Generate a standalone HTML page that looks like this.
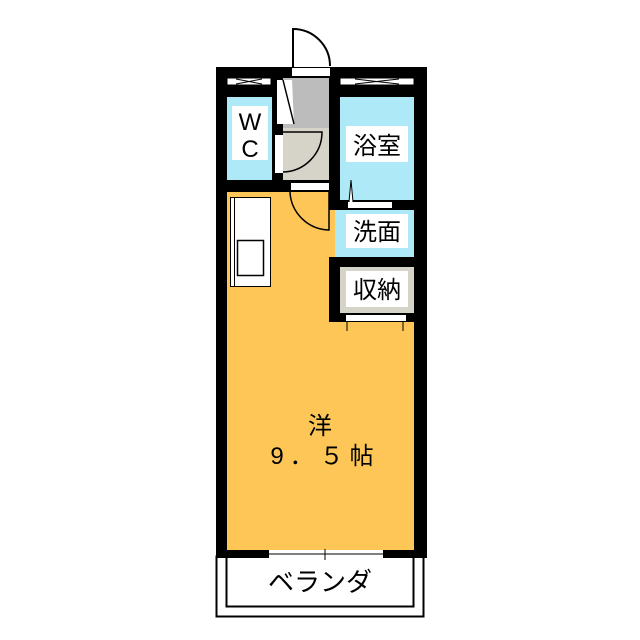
<!DOCTYPE html>
<html><head><meta charset="utf-8"><style>
html,body{margin:0;padding:0;background:#fff;width:640px;height:640px;overflow:hidden}
svg{display:block}
text{font-family:"Liberation Sans","Noto Sans CJK JP",sans-serif;fill:#000}
</style></head><body>
<svg width="640" height="640" viewBox="0 0 640 640" xmlns="http://www.w3.org/2000/svg">
<rect width="640" height="640" fill="#fff"/>
<rect x="216.5" y="556.5" width="207" height="60" fill="#fff" stroke="#000" stroke-width="2"/>
<rect x="226.5" y="556.5" width="187" height="50" fill="#fff" stroke="#000" stroke-width="2"/>
<rect x="216" y="67" width="211" height="491" fill="#000"/>
<rect x="227" y="97" width="45" height="83" fill="#aee9f7"/>
<rect x="283" y="78" width="46" height="50" fill="#bcbcbc"/>
<rect x="283" y="128" width="46" height="52" fill="#d6d4c9"/>
<rect x="340" y="97" width="74" height="103" fill="#aee9f7"/>
<rect x="227" y="192" width="102" height="358" fill="#fdc656"/>
<rect x="329" y="210" width="6" height="47" fill="#fdc656"/>
<rect x="227" y="322" width="187" height="228" fill="#fdc656"/>
<rect x="335" y="210" width="79" height="47" fill="#aee9f7"/>
<rect x="340" y="267" width="74" height="46" fill="#d6d4c9"/>
<g fill="#fff" stroke="#000" stroke-width="1">
<rect x="227" y="78" width="44" height="7"/>
<rect x="340" y="78" width="74" height="7"/>
</g>
<path d="M236 79l26 5M236 84l26-5M355 79l44 5M355 84l44-5" stroke="#000" stroke-width="1" fill="none"/>
<rect x="292" y="68" width="38" height="8" fill="#fff"/>
<rect x="292" y="28" width="2" height="40" fill="#000"/>
<path d="M293 29 A37 37 0 0 1 330 66" fill="none" stroke="#000" stroke-width="2"/>
<rect x="291" y="183" width="38" height="7" fill="#fff"/>
<path d="M277 80 L292 80 L294 124 L277 124 Z" fill="#fff"/>
<path d="M283 80 L294 124" stroke="#000" stroke-width="1.5"/>
<rect x="275" y="135" width="8" height="38" fill="#fff"/>
<path d="M283 172 A40 40 0 0 0 322 132 L283 132" fill="none" stroke="#000" stroke-width="1.5"/>
<path d="M290 192 A40 40 0 0 0 329 230 L329 192" fill="none" stroke="#000" stroke-width="1.5"/>
<rect x="348" y="202" width="44" height="6" fill="#fff"/>
<path d="M349 202 L351 180 L353 202" fill="#fff" stroke="#000" stroke-width="1"/>
<rect x="346" y="315" width="60" height="6" fill="#fff"/>
<path d="M347 321v10M403 321v10" stroke="#000" stroke-width="1"/>
<rect x="230.5" y="197.5" width="40" height="89" fill="#fff" stroke="#000" stroke-width="1"/>
<rect x="234.5" y="197.5" width="36" height="89" fill="#fff" stroke="#000" stroke-width="1"/>
<rect x="237.5" y="240.5" width="26" height="35" fill="#fff" stroke="#000" stroke-width="1.5"/>
<rect x="269" y="550" width="114" height="8" fill="#fff"/>
<path d="M269 554h114M325 549v11" stroke="#000" stroke-width="1"/>
<g fill="#fff">
<rect x="232" y="106" width="36" height="54"/>
<rect x="346" y="126" width="62" height="36"/>
<rect x="346" y="214" width="62" height="34"/>
<rect x="346" y="271" width="62" height="36"/>
</g>
<g font-size="24" text-anchor="middle">
<text x="250" y="130">W</text>
<text x="250" y="157">C</text>
<text x="377" y="154">浴室</text>
<text x="377" y="240">洗面</text>
<text x="377" y="298">収納</text>
<text x="320" y="434">洋</text>
<text x="325" y="464" letter-spacing="6">9．５帖</text>
<text x="320" y="591" font-size="26">ベランダ</text>
</g>
</svg>
</body></html>
